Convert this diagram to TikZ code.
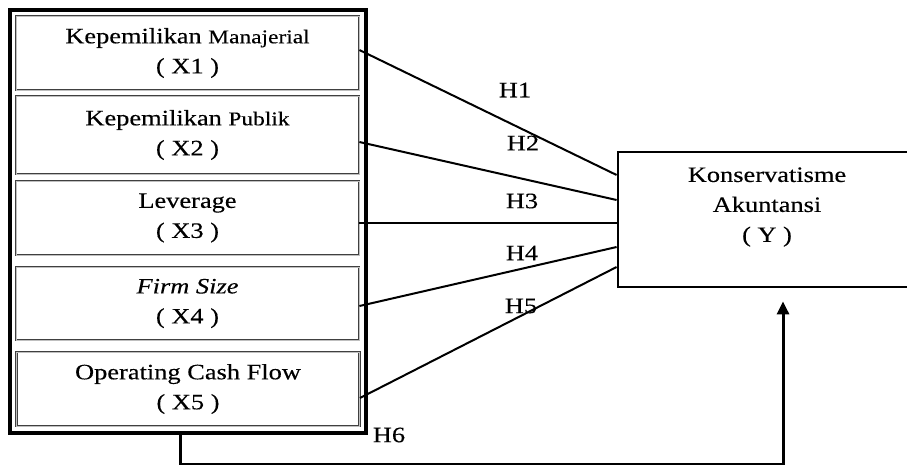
\documentclass[tikz,border=0pt]{standalone}
\usepackage{fontspec}
\setmainfont{Liberation Serif}[FakeStretch=1.2,FakeBold=0.3]
\usetikzlibrary{arrows.meta}
\newcommand{\mainsz}{\fontsize{22}{30}\selectfont}
\newcommand{\smallsz}{\fontsize{19.5}{30}\selectfont}
\begin{document}
\begin{tikzpicture}[x=1pt,y=-1pt,
  inbox/.style={draw=black!75, double=black!25, double distance=0.8pt, line width=0.8pt,
    minimum width=343pt, inner sep=0pt, align=center, font=\mainsz},
  hlabel/.style={font=\mainsz, inner sep=0pt},
  conn/.style={line width=2pt},
  fb/.style={line width=3pt, -{Triangle[length=13pt,width=12pt]}}]
\useasboundingbox (0,0) rectangle (907,464);
% outer frame
\node[draw, line width=4pt, minimum width=356pt, minimum height=423pt, inner sep=0pt] (outer) at (188,221.5) {};
% inner boxes
\node[inbox, minimum height=74pt] (x1) at (187.5,53) {Kepemilikan {\smallsz Manajerial}\\( X1 )};
\node[inbox, minimum height=78pt] (x2) at (187.5,135) {Kepemilikan {\smallsz Publik}\\( X2 )};
\node[inbox, minimum height=74pt] (x3) at (187.5,218) {Leverage\\( X3 )};
\node[inbox, minimum height=73pt] (x4) at (187.5,303.5) {\textit{Firm Size}\\( X4 )};
\node[inbox, minimum height=74pt] (x5) at (188,389) {Operating Cash Flow\\( X5 )};
% dependent variable
\node[draw, line width=2.8pt, minimum width=294pt, minimum height=135pt, inner sep=0pt] (Y) at (765,219.5) {};
\node[font=\mainsz, align=center, inner sep=0pt] (ytext) at (767,207) {Konservatisme\\Akuntansi\\( Y )};
% connectors
\draw[conn] ([yshift=3pt]x1.east) -- ([yshift=44.5pt]Y.west);
\draw[conn] ([yshift=-7pt]x2.east) -- ([yshift=19.5pt]Y.west);
\draw[conn] ([yshift=-5pt]x3.east) -- ([yshift=-3.5pt]Y.west);
\draw[conn] ([yshift=-2.5pt]x4.east) -- ([yshift=-27.5pt]Y.west);
\draw[conn] ([yshift=-9pt]x5.east) -- ([yshift=-47.5pt]Y.west);
% labels
\node[hlabel] (h1) at (515,90) {H1};
\node[hlabel] (h2) at (523,143) {H2};
\node[hlabel] (h3) at (522,201) {H3};
\node[hlabel] (h4) at (522,253) {H4};
\node[hlabel] (h5) at (521,306) {H5};
\node[hlabel] (h6) at (389,435) {H6};
% feedback arrow
\draw[fb] ([xshift=-8pt]outer.south) -- ++(0,29) -| ([xshift=18pt,yshift=-13pt]Y.south);
\end{tikzpicture}
\end{document}
